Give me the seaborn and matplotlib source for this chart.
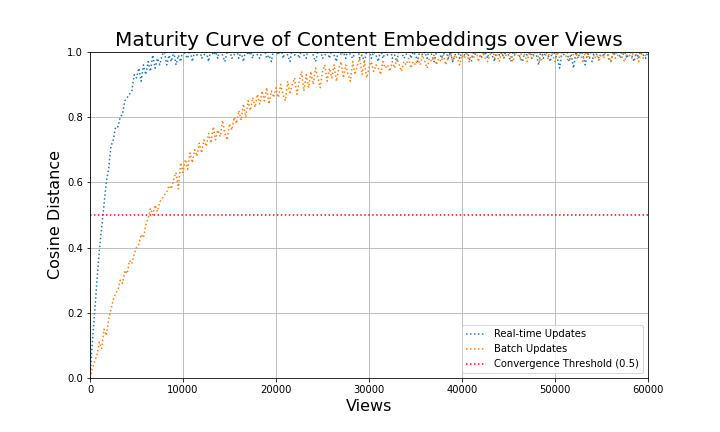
import numpy as np
import pandas as pd
import matplotlib
matplotlib.use("Agg")
import matplotlib.pyplot as plt
import seaborn as sns

# views sampled every 250
views = list(range(0, 60001, 250))

realtime = [
    0.00, 0.11, 0.20, 0.30, 0.39, 0.46, 0.53, 0.60, 0.64, 0.71,
    0.73, 0.77, 0.77, 0.80, 0.81, 0.85, 0.86, 0.87, 0.88, 0.93,
    0.92, 0.95, 0.91, 0.96, 0.93, 0.97, 0.94, 0.99, 0.95, 0.98,
    0.96, 0.99, 1.00, 0.96, 0.99, 0.97, 1.00, 0.96, 0.99, 0.97,
    1.01,
    0.99, 0.98, 1.01, 0.97, 1.00, 0.99, 1.02, 0.98, 0.99, 1.00,
    0.97, 1.01, 0.99, 1.00, 0.98, 1.02, 0.99, 0.97, 1.00, 1.01,
    0.98, 0.99, 1.01, 0.98, 1.00, 0.97, 1.01, 0.99, 1.00, 0.98,
    1.02, 0.99, 0.98, 1.00, 1.01, 0.98, 0.99, 0.97, 1.01, 1.00,
    0.99, 1.02, 0.98, 1.00, 0.99, 0.97, 1.01, 0.99, 1.00, 0.98,
    1.01, 0.99, 0.98, 1.02, 1.00, 0.99, 0.97, 1.00, 1.01, 0.98,
    0.99, 1.00, 0.98, 1.01, 0.99, 0.97, 1.02, 0.99, 1.00, 0.98,
    1.01, 0.99, 0.98, 1.00, 1.02, 0.98, 0.99, 0.97, 1.00, 1.01,
    0.98, 1.00, 0.99, 0.97, 1.01, 0.98, 1.00, 0.99, 1.02, 0.98,
    0.99, 0.97, 1.01, 1.00, 0.98, 0.99, 1.02, 0.98, 1.00, 0.99,
    0.97, 1.01, 0.99, 1.00, 0.98, 1.01, 0.99, 0.97, 1.00, 1.02,
    0.98, 0.99, 1.01, 0.98, 1.00, 0.97, 0.99, 1.01, 0.98, 1.00,
    0.99, 1.02, 0.98, 0.97, 1.00, 0.99, 1.01, 0.98, 0.99, 1.00,
    0.98, 1.01, 0.99, 0.97, 1.02, 0.99, 1.00, 0.98, 1.01, 0.99,
    0.97, 1.00, 0.99, 1.01, 0.98, 0.97, 1.00, 0.99, 1.02, 0.98,
    1.00, 0.99, 0.96, 1.01, 0.98, 1.00, 0.99, 0.97, 1.01, 0.99,
    0.98, 0.95, 1.00, 0.99, 1.01, 0.97, 0.99, 0.95, 1.00, 0.98,
    1.01, 0.99, 0.96, 1.00, 0.98, 0.97, 1.01, 0.99, 0.98, 1.00,
    0.99, 1.02, 0.98, 0.97, 1.00, 0.99, 1.01, 0.98, 0.99, 1.00,
    0.98, 1.01, 0.99, 0.97, 1.00, 0.98, 1.01, 0.99, 0.98, 1.00,
]

batch = [
    0.00, 0.03, 0.05, 0.07, 0.11, 0.09, 0.15, 0.13, 0.18, 0.21,
    0.24, 0.26, 0.27, 0.30, 0.29, 0.33, 0.32, 0.36, 0.35, 0.38,
    0.40, 0.41, 0.44, 0.43, 0.47, 0.49, 0.52, 0.50, 0.53, 0.51,
    0.54, 0.55, 0.56, 0.57, 0.59, 0.58, 0.61, 0.63, 0.58, 0.66,
    0.63, 0.67, 0.64, 0.69, 0.66, 0.70, 0.68, 0.72, 0.69, 0.73,
    0.71, 0.75, 0.72, 0.77, 0.73, 0.76, 0.74, 0.79, 0.75, 0.73,
    0.78, 0.76, 0.80, 0.78, 0.82, 0.79, 0.84, 0.80, 0.85, 0.82,
    0.86, 0.83, 0.87, 0.84, 0.88, 0.85, 0.89, 0.84, 0.88, 0.86,
    0.89, 0.86, 0.90, 0.87, 0.85, 0.91, 0.87, 0.90, 0.92, 0.87,
    0.91, 0.94, 0.88, 0.93, 0.89, 0.94, 0.90, 0.95, 0.92, 0.89,
    0.94, 0.96, 0.91, 0.95, 0.92, 0.96, 0.91, 0.95, 0.97, 0.92,
    0.96, 0.93, 0.91, 0.97, 0.93, 0.96, 0.98, 0.93, 0.97, 0.92,
    0.95, 0.97, 0.94, 0.96, 0.95, 0.93, 0.97, 0.95, 0.96, 0.94,
    0.97, 0.95, 0.98, 0.96, 0.94, 0.97, 0.96, 0.98, 0.95, 0.97,
    0.96, 0.98, 0.96, 0.99, 0.97, 0.95, 0.98, 0.97, 0.99, 0.96,
    0.98, 0.97, 0.99, 0.96, 0.98, 1.00, 0.97, 0.99, 0.98, 0.96,
    0.99,
    0.98, 1.00, 0.97, 0.99, 0.98, 1.01, 0.97, 0.99, 1.00, 0.98,
    0.97, 0.99, 1.01, 0.98, 0.99, 0.97, 1.00, 0.98, 0.99, 1.01,
    0.98, 0.97, 1.00, 0.99, 0.98, 1.01, 0.99, 0.97, 1.00, 0.98,
    0.99, 1.01, 0.98, 0.97, 1.00, 0.99, 0.98, 1.01, 0.99, 0.97,
    1.00, 0.98, 0.99, 1.01, 0.98, 0.97, 1.00, 0.99, 0.98, 1.01,
    0.99, 0.97, 1.00, 0.98, 0.99, 1.01, 0.98, 0.99, 0.97, 1.00,
    0.98, 1.01, 0.99, 0.97, 1.00, 0.98, 0.99, 1.01, 0.98, 0.97,
    1.00, 0.99, 0.98, 1.01, 0.99, 0.97, 1.00, 0.98, 0.99, 1.00,
]

threshold = 0.5

df = pd.DataFrame({"views": views, "Real-time Updates": realtime, "Batch Updates": batch})

fig, ax = plt.subplots(figsize=(10, 6), dpi=72)
fig.subplots_adjust(left=0.125, right=0.9, top=0.88, bottom=0.125)

sns.lineplot(x="views", y="Real-time Updates", data=df, ls=":", color="tab:blue",
             lw=1.5, label="Real-time Updates", ax=ax)
sns.lineplot(x="views", y="Batch Updates", data=df, ls=":", color="tab:orange",
             lw=1.5, label="Batch Updates", ax=ax)
ax.axhline(threshold, color="red", ls=":", lw=1.5, label="Convergence Threshold (0.5)")

ax.set_xlim(0, 60000)
ax.set_ylim(0, 1)
ax.grid(True, color="#b0b0b0", lw=0.8)
ax.set_axisbelow(True)
ax.set_title("Maturity Curve of Content Embeddings over Views", fontsize=20)
ax.set_xlabel("Views", fontsize=16)
ax.set_ylabel("Cosine Distance", fontsize=16)
ax.tick_params(labelsize=10)
ax.legend(loc="lower right", fontsize=10)

fig.savefig("out.png", dpi=72)
